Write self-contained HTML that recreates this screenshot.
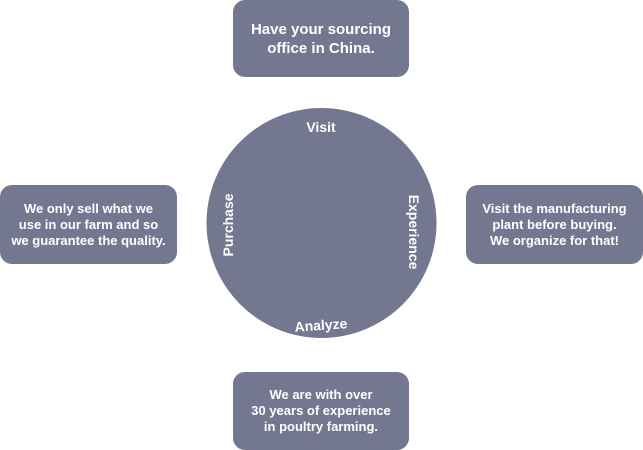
<!DOCTYPE html>
<html><head><meta charset="utf-8"><style>
html,body{margin:0;padding:0;background:#fff;width:643px;height:450px;overflow:hidden}
.b{position:absolute;background:#737890;border-radius:12px;color:#fff;font-family:"Liberation Sans",sans-serif;font-weight:bold;text-align:center;display:flex;align-items:center;justify-content:center;font-size:13px;line-height:16px}
svg{position:absolute;left:0;top:0}
</style></head><body>
<svg width="643" height="450">
<circle cx="321.5" cy="223" r="115" fill="#737890"/>
<g fill="#fff" font-family="Liberation Sans, sans-serif" font-weight="bold" font-size="14">
<text x="321" y="132" text-anchor="middle">Visit</text>
<text x="321" y="330" text-anchor="middle" transform="rotate(-4 321 326)">Analyze</text>
<text transform="translate(409,232) rotate(90)" text-anchor="middle">Experience</text>
<text transform="translate(233,225) rotate(-90)" text-anchor="middle">Purchase</text>
</g>
</svg>
<div class="b" style="left:233px;top:0;width:176px;height:77px;font-size:15px;line-height:19px">Have your sourcing<br>office in China.</div>
<div class="b" style="left:0;top:185px;width:177px;height:79px">We only sell what we<br>use in our farm and so<br>we guarantee the quality.</div>
<div class="b" style="left:466px;top:185px;width:177px;height:79px">Visit the manufacturing<br>plant before buying.<br>We organize for that!</div>
<div class="b" style="left:233px;top:372px;width:176px;height:78px">We are with over<br>30 years of experience<br>in poultry farming.</div>
</body></html>
